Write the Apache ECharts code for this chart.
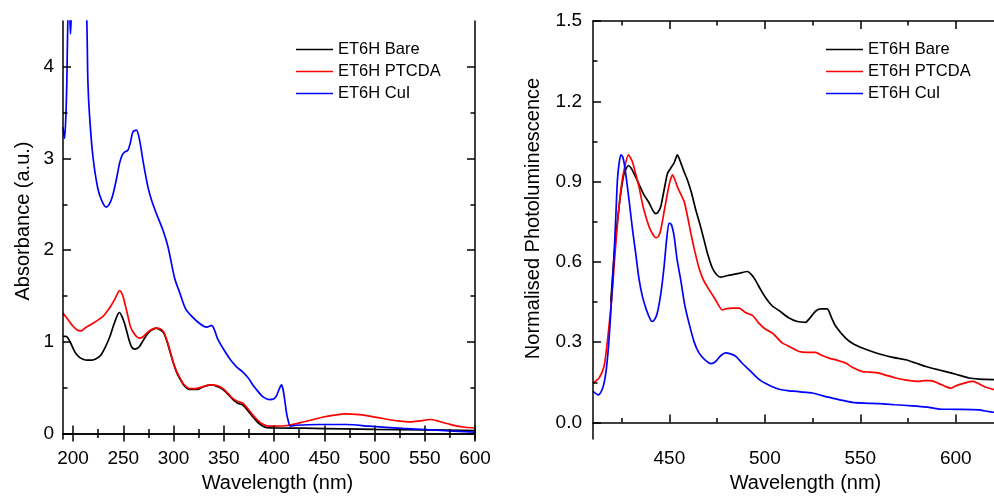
<!DOCTYPE html>
<html>
<head>
<meta charset="utf-8">
<script src="https://cdn.jsdelivr.net/npm/echarts@6/dist/echarts.min.js"></script>
<style>
html,body{margin:0;padding:0;background:#fff;}
#c{width:994px;height:498px;}
</style>
</head>
<body>
<div id="c"></div>
<script>
// ---------- Data: absorbance (left panel) [wavelength nm, absorbance a.u.] ----------
const absBare = [[190,1.06],[193,1.06],[195,1.04],[197.5,0.99],[200,0.93],[203,0.87],[206.5,0.83],[210,0.81],[214,0.80],[218,0.80],[222,0.81],[225,0.83],[228,0.86],[232,0.94],[236.4,1.05],[240,1.17],[242.3,1.24],[244.5,1.30],[246.3,1.32],[248.5,1.28],[251.3,1.20],[254,1.09],[256.3,1.00],[258.5,0.94],[261.3,0.92],[264,0.93],[266.2,0.95],[269,1.00],[272.9,1.07],[277,1.12],[282.9,1.15],[287,1.13],[290,1.10],[293,1.02],[296.3,0.90],[300,0.76],[303,0.67],[306.2,0.60],[310,0.53],[316,0.48],[322,0.48],[326,0.49],[332,0.52],[338,0.53],[344,0.51],[349.3,0.48],[354,0.43],[359.2,0.37],[364,0.33],[369,0.31],[374,0.25],[379,0.18],[384,0.12],[389,0.08],[393,0.065],[400,0.06],[430,0.058],[470,0.05],[500,0.045],[550,0.04],[600,0.033]];
const absPTCDA = [[190,1.31],[193,1.27],[196.5,1.22],[200,1.17],[204,1.13],[208,1.12],[212,1.15],[216.4,1.18],[221,1.21],[226.4,1.25],[230,1.28],[233,1.32],[237,1.38],[241.3,1.46],[244,1.52],[246.3,1.56],[248,1.54],[249.6,1.50],[252,1.40],[254.6,1.28],[257,1.17],[259.6,1.11],[263,1.06],[266.2,1.04],[269,1.05],[272.9,1.09],[277,1.13],[282.9,1.15],[287,1.14],[290,1.11],[293,1.03],[296.3,0.91],[300,0.77],[303,0.68],[306.2,0.61],[310,0.54],[316,0.49],[322,0.49],[326,0.50],[332,0.52],[338,0.53],[344,0.52],[349.3,0.49],[354,0.44],[359.2,0.38],[364,0.35],[369,0.33],[374,0.27],[379,0.20],[384,0.14],[389,0.10],[394,0.08],[400,0.08],[415,0.09],[429,0.125],[449,0.18],[460,0.20],[472,0.214],[485,0.205],[495,0.19],[505,0.17],[515,0.15],[525,0.135],[535,0.127],[545,0.137],[555,0.153],[562,0.14],[568,0.12],[575,0.10],[582,0.08],[590,0.068],[600,0.06]];
const absCuI = [[190,3.34],[191.5,3.22],[192.8,3.45],[193.8,3.83],[194.8,4.5],[195.8,4.75],[196.8,4.55],[197.5,4.36],[198.3,4.6],[199.5,4.9],[203,5.2],[208,5.2],[212,4.9],[213.7,4.5],[214.8,3.83],[216.4,3.47],[219.7,3.03],[224.7,2.67],[229,2.53],[233,2.47],[236,2.50],[239,2.58],[241.3,2.68],[244,2.82],[246.3,2.95],[249,3.04],[251.3,3.07],[254.6,3.09],[257,3.17],[259.6,3.29],[263,3.31],[266.2,3.20],[270,2.95],[274.5,2.69],[278,2.55],[282.9,2.40],[289.4,2.22],[294.4,2.04],[301,1.70],[306,1.54],[312,1.36],[319,1.27],[326,1.20],[332.7,1.16],[336,1.17],[337.6,1.18],[340,1.15],[344,1.03],[352.6,0.87],[357,0.80],[362.5,0.73],[369,0.67],[374,0.61],[379,0.53],[384,0.46],[389,0.40],[395.7,0.37],[400,0.38],[402.4,0.41],[405,0.48],[407.4,0.53],[409,0.48],[410.7,0.36],[412.5,0.22],[414,0.145],[416.3,0.08],[422,0.09],[445,0.098],[472,0.098],[495,0.08],[528,0.055],[562,0.036],[600,0.015]];

// ---------- Data: photoluminescence (right panel) [wavelength nm, normalised PL] ----------
const plBare = [[419.3,0.45],[421,0.62],[422.3,0.72],[423.7,0.81],[425,0.88],[426.3,0.93],[428.5,0.96],[430,0.95],[431.5,0.93],[434.1,0.89],[436.7,0.85],[439.4,0.82],[441.5,0.79],[442.9,0.78],[444,0.785],[445.5,0.807],[447,0.86],[449,0.93],[450.7,0.95],[452.5,0.97],[454.2,1.0],[456,0.97],[457.5,0.94],[459.4,0.907],[461.5,0.86],[463.8,0.795],[466,0.74],[468.1,0.683],[470,0.63],[472.5,0.577],[475,0.55],[476.9,0.543],[480,0.548],[483,0.552],[487,0.558],[490.8,0.564],[493,0.552],[495.2,0.53],[497.5,0.50],[500.5,0.465],[503.9,0.435],[507.4,0.418],[512.7,0.39],[517,0.377],[521.4,0.374],[523,0.385],[524.9,0.402],[527,0.418],[529.3,0.424],[532.7,0.424],[535,0.39],[537.1,0.359],[542.3,0.315],[546,0.295],[551,0.278],[556,0.265],[561.5,0.253],[567,0.243],[573.7,0.234],[579,0.222],[584.2,0.209],[589,0.2],[594.7,0.19],[600,0.18],[606.9,0.166],[612,0.162],[620,0.16]];
const plPTCDA = [[410,0.147],[413.2,0.166],[415.8,0.21],[417,0.27],[418.4,0.36],[420,0.48],[421,0.58],[422.3,0.70],[423.7,0.81],[425,0.89],[426.3,0.944],[428.5,1.0],[430.6,0.975],[432.3,0.93],[434.1,0.88],[435.8,0.82],[437.6,0.77],[440,0.72],[442.9,0.69],[444.3,0.695],[445.5,0.72],[447.3,0.79],[449,0.857],[450.3,0.90],[451.6,0.925],[453,0.905],[454.2,0.88],[457.7,0.826],[459.5,0.77],[461.2,0.708],[463.3,0.64],[465.5,0.577],[468,0.53],[470.8,0.496],[474,0.46],[477.7,0.42],[480,0.425],[483,0.427],[486.5,0.427],[488.2,0.42],[490,0.41],[493.5,0.40],[497,0.37],[500,0.35],[503.9,0.334],[509.1,0.297],[512.7,0.284],[517.9,0.265],[522,0.262],[526.6,0.262],[530,0.25],[533.6,0.24],[538,0.232],[542.3,0.222],[546,0.205],[551,0.19],[555,0.188],[559.8,0.184],[564,0.175],[568.5,0.166],[574,0.158],[580.7,0.153],[583,0.156],[586.8,0.156],[591.2,0.145],[594,0.136],[597.3,0.128],[599.5,0.135],[601.7,0.141],[605,0.148],[608.6,0.153],[611,0.148],[614.8,0.134],[620,0.122]];
const plCuI = [[410,0.116],[412.8,0.103],[414.3,0.115],[415.8,0.147],[417,0.20],[418.4,0.31],[419.7,0.46],[421,0.62],[422,0.78],[422.8,0.907],[423.7,0.97],[424.6,1.0],[425.4,0.995],[426.3,0.97],[427.5,0.91],[428.9,0.83],[430.7,0.72],[432.4,0.63],[434,0.54],[435.9,0.47],[438,0.42],[440,0.385],[441,0.377],[442.3,0.385],[443.7,0.41],[445.5,0.48],[447.2,0.58],[448.5,0.68],[449.8,0.745],[451,0.74],[452.5,0.695],[454,0.61],[456,0.53],[458,0.44],[460.3,0.37],[463,0.30],[465.5,0.26],[468.5,0.235],[471.7,0.22],[473.5,0.224],[475,0.234],[477,0.25],[479.5,0.26],[482,0.256],[484.8,0.247],[488,0.222],[491.7,0.197],[495.2,0.172],[498,0.155],[500.5,0.145],[503.9,0.133],[507.4,0.124],[512.7,0.118],[517,0.116],[520,0.113],[524.9,0.11],[530,0.10],[535.3,0.091],[540,0.083],[545.8,0.075],[552,0.072],[559.8,0.07],[568,0.066],[577.2,0.062],[585,0.057],[591.2,0.05],[600,0.049],[612,0.047],[617.4,0.04],[620,0.038]];

// ---------- Names and ticks ----------
const seriesNames = ['ET6H Bare', 'ET6H PTCDA', 'ET6H CuI'];
const seriesColors = ['#000000', '#ff0000', '#0000ff'];
const absXTicks = [200, 250, 300, 350, 400, 450, 500, 550, 600];
const absXMinor = [225, 275, 325, 375, 425, 475, 525, 575];
const absYTicks = [0, 1, 2, 3, 4];
const absYMinor = [0.5, 1.5, 2.5, 3.5];
const plXTicks = [450, 500, 550, 600];
const plXMinor = [425, 475, 525, 575];
const plYTicks = [0, 0.3, 0.6, 0.9, 1.2, 1.5];
const plYMinor = [0.15, 0.45, 0.75, 1.05, 1.35];

const FONT = 'Liberation Sans, Arial, Helvetica, sans-serif';
const LINE = {show: true, lineStyle: {color: '#000', width: 1.5}};
const NOLINE = {show: false};

function axis(o) {
  return {
    type: 'value',
    gridIndex: o.grid,
    position: o.pos,
    min: o.min, max: o.max,
    axisLine: o.line ? LINE : NOLINE,
    axisTick: {show: true, inside: true, length: o.tlen,
      lineStyle: {color: '#000', width: 1.5}, customValues: o.ticks},
    axisLabel: o.labels ? {show: true, customValues: o.labels, color: '#000',
      fontFamily: FONT, fontSize: 19, margin: o.margin,
      formatter: o.fmt || (v => String(v))} : {show: false},
    splitLine: {show: false},
    minorTick: {show: false},
    name: o.name || '',
    nameLocation: 'middle',
    nameGap: o.nameGap || 0,
    nameTextStyle: {color: '#000', fontFamily: FONT, fontSize: 20, padding: o.namePad || 0},
    z: 5
  };
}

const GL = {top: 21, height: 418};
const grids = [
  {left: 63, width: 412, ...GL},
  {left: 63, width: 412, ...GL},
  {left: 593, width: 401, ...GL},
  {left: 593, width: 401, ...GL}
];

const xAxes = [
  axis({grid:0, pos:'bottom', min:190, max:600, line:true, tlen:8, ticks:absXTicks, labels:absXTicks, margin:10,
        name:'Wavelength (nm)', nameGap:34, namePad:[0,0,0,17]}),
  axis({grid:0, pos:'top', min:190, max:600, line:true, tlen:8, ticks:absXTicks}),
  axis({grid:1, pos:'bottom', min:190, max:600, line:false, tlen:4.5, ticks:absXMinor}),
  axis({grid:1, pos:'top', min:190, max:600, line:false, tlen:4.5, ticks:absXMinor}),
  axis({grid:2, pos:'bottom', min:410, max:620, line:true, tlen:8, ticks:plXTicks, labels:plXTicks, margin:10,
        name:'Wavelength (nm)', nameGap:34, namePad:[0,0,0,24]}),
  axis({grid:2, pos:'top', min:410, max:620, line:true, tlen:8, ticks:plXTicks}),
  axis({grid:3, pos:'bottom', min:410, max:620, line:false, tlen:4.5, ticks:plXMinor}),
  axis({grid:3, pos:'top', min:410, max:620, line:false, tlen:4.5, ticks:plXMinor})
];
const yAxes = [
  axis({grid:0, pos:'left', min:-0.06, max:4.5, line:true, tlen:8, ticks:absYTicks, labels:absYTicks, margin:9,
        name:'Absorbance (a.u.)', nameGap:30, namePad:[0,0,0,18]}),
  axis({grid:0, pos:'right', min:-0.06, max:4.5, line:true, tlen:8, ticks:absYTicks}),
  axis({grid:1, pos:'left', min:-0.06, max:4.5, line:false, tlen:4.5, ticks:absYMinor}),
  axis({grid:1, pos:'right', min:-0.06, max:4.5, line:false, tlen:4.5, ticks:absYMinor}),
  axis({grid:2, pos:'left', min:-0.062, max:1.5, line:true, tlen:8, ticks:plYTicks, labels:plYTicks, margin:11,
        fmt: v => Number(v).toFixed(1),
        name:'Normalised Photoluminescence', nameGap:50, namePad:[0,0,0,23]}),
  axis({grid:3, pos:'left', min:-0.062, max:1.5, line:false, tlen:4.5, ticks:plYMinor})
];

function line(name, color, data, xi, yi, smooth) {
  return {
    type: 'line', name, data, xAxisIndex: xi, yAxisIndex: yi,
    symbol: 'none', smooth: smooth, clip: true,
    lineStyle: {color, width: 1.7}, itemStyle: {color},
    z: 3, animation: false
  };
}
// empty helper series so the minor-tick overlay grids are laid out and drawn
function holder(xi, yi) {
  return {type: 'line', name: '_', data: [], xAxisIndex: xi, yAxisIndex: yi,
          symbol: 'none', silent: true, animation: false};
}

const series = [
  line(seriesNames[0], seriesColors[0], absBare, 0, 0, 0.3),
  line(seriesNames[1], seriesColors[1], absPTCDA, 0, 0, 0.3),
  line(seriesNames[2], seriesColors[2], absCuI, 0, 0, 0.3),
  line(seriesNames[0], seriesColors[0], plBare, 4, 4, 0.2),
  line(seriesNames[1], seriesColors[1], plPTCDA, 4, 4, 0.2),
  line(seriesNames[2], seriesColors[2], plCuI, 4, 4, 0.2),
  holder(2, 2), holder(3, 3), holder(6, 5), holder(7, 5)
];

const LEGEND_ICON = 'path://M0,0H370V15H0Z';
function legend(left) {
  return {
    left, top: 41, orient: 'vertical', padding: 0,
    itemWidth: 37, itemHeight: 14, itemGap: 5,
    selectedMode: false,
    textStyle: {color: '#000', fontFamily: FONT, fontSize: 16.5},
    data: seriesNames.map(n => ({name: n, icon: LEGEND_ICON}))
  };
}

const chart = echarts.init(document.getElementById('c'), null, {renderer: 'canvas'});
chart.setOption({
  backgroundColor: '#ffffff',
  animation: false,
  grid: grids,
  xAxis: xAxes,
  yAxis: yAxes,
  legend: [legend(296), legend(826)],
  series
});
</script>
</body>
</html>
